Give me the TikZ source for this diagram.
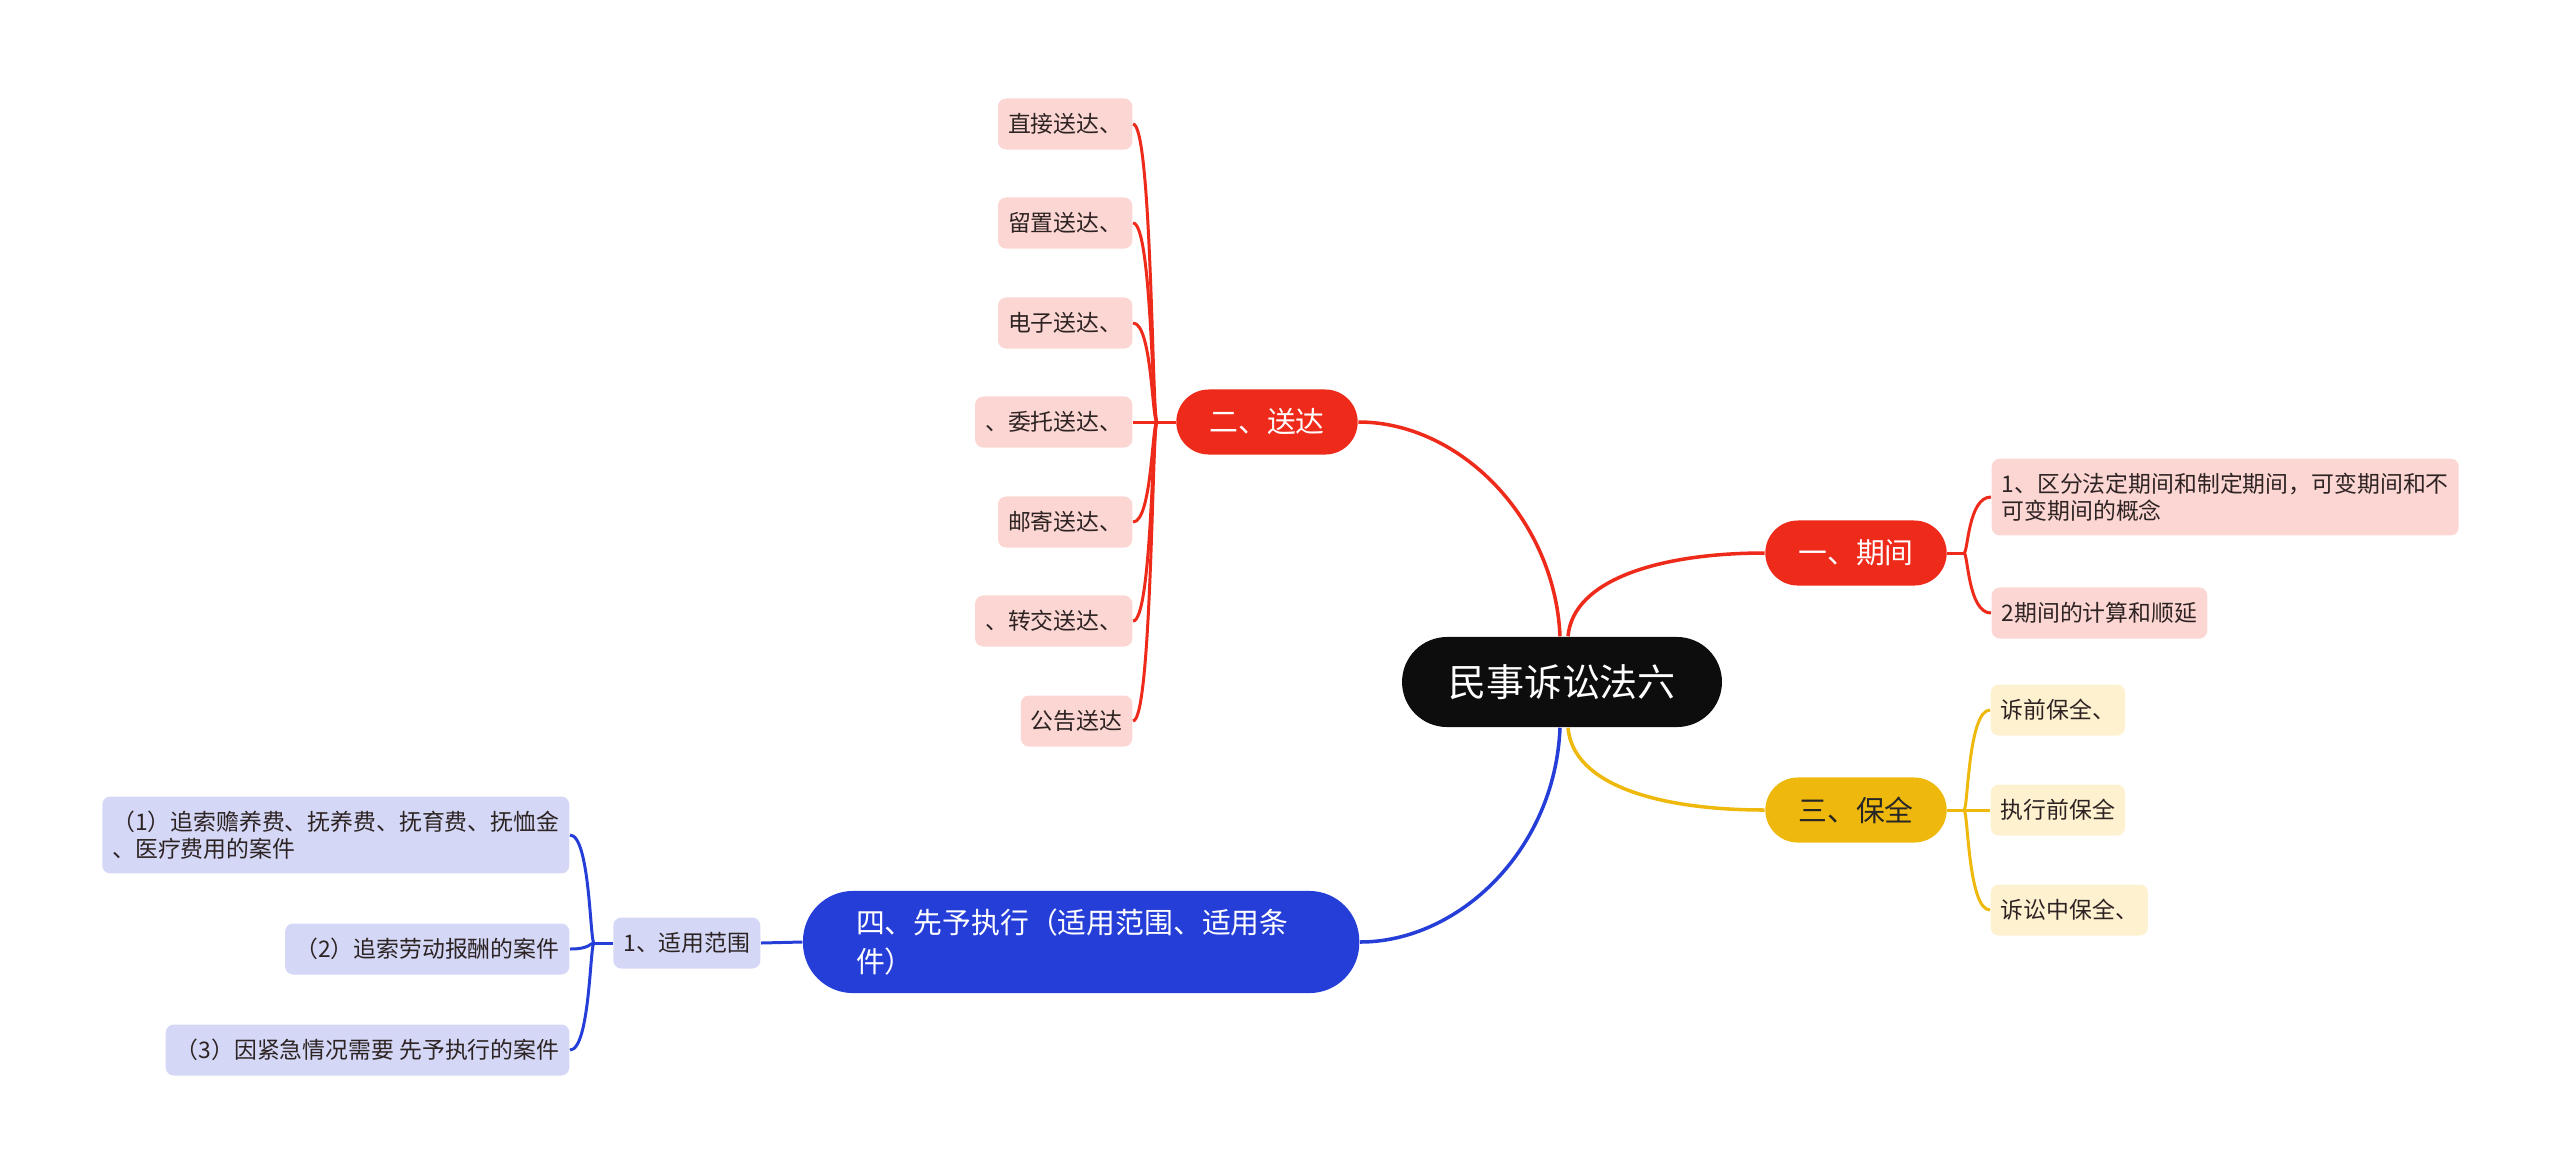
\documentclass[tikz,border=0pt]{standalone}
\usepackage{fontspec}
\newfontfamily\cjk{Noto Sans CJK SC}
\usetikzlibrary{positioning}
\definecolor{rootblack}{RGB}{13,13,13}
\definecolor{branchred}{RGB}{238,42,26}
\definecolor{leafred}{RGB}{252,214,211}
\definecolor{branchyellow}{RGB}{239,184,12}
\definecolor{leafyellow}{RGB}{253,241,208}
\definecolor{branchblue}{RGB}{37,62,216}
\definecolor{leafblue}{RGB}{212,216,246}
\definecolor{leaftext}{RGB}{45,35,35}

\begin{document}
\begin{tikzpicture}[
    x=0.01cm, y=-0.01cm,
    font=\cjk,
    rootnode/.style={fill=rootblack, text=white, rounded corners=0.45cm,
        minimum height=0.9cm, inner xsep=0.46cm,
        font=\cjk\fontsize{10.8}{13}\selectfont},
    topic/.style={fill=#1, rounded corners=0.325cm, minimum height=0.65cm,
        inner xsep=0.33cm, font=\cjk\fontsize{8.2}{11}\selectfont},
    leaf/.style={fill=#1, text=leaftext, rounded corners=0.08cm,
        minimum height=0.51cm, inner xsep=0.1cm, inner ysep=0.14cm,
        align=left, font=\cjk\fontsize{6.5}{7.8}\selectfont},
    link/.style={draw=#1, line width=1pt},
    twig/.style={draw=#1, line width=0.85pt}
]

% ============================================================
% Canvas
% ============================================================
\useasboundingbox (0,0) rectangle (2560,1172);

% ============================================================
% Root and main topics
% ============================================================
\node[rootnode] (root) at (1562,682) {民事诉讼法六};

\node[topic=branchred, text=white] (qijian) at (1856,553) {一、期间};
\node[topic=branchyellow, text=black!85] (baoquan) at (1856,810) {三、保全};
\node[topic=branchred, text=white] (songda) at (1267,422) {二、送达};
\node[topic=branchblue, text=white, anchor=east, text width=4.5cm,
      align=left, rounded corners=0.5cm, inner xsep=0.53cm, inner ysep=0.18cm]
      (xianyu) at (1360,942) {四、先予执行（适用范围、适用条\\件）};

% Main branches
\draw[link=branchred] ([xshift=-0.02cm]root.north)
    .. controls +(-5,-117) and +(102,0) .. (songda.east);
\draw[link=branchred] ([xshift=0.06cm]root.north)
    .. controls +(5,-57) and +(-104,0) .. (qijian.west);
\draw[link=branchyellow] ([xshift=0.06cm]root.south)
    .. controls +(5,58) and +(-104,0) .. (baoquan.west);
\draw[link=branchblue] ([xshift=-0.02cm]root.south)
    .. controls +(-5,123) and +(98,0) .. (xianyu.east);

% ============================================================
% RIGHT: 期间
% ============================================================
\node[leaf=leafred, anchor=west] (qj1) at (1991,497) {1、区分法定期间和制定期间，可变期间和不\\可变期间的概念};
\node[leaf=leafred, anchor=west] (qj2) at (1991,613) {2期间的计算和顺延};

\coordinate (qjjoin) at (1964,553);
\coordinate (qjspine) at (1968,553);
\draw[twig=branchred] (qijian.east) -- (qjjoin);
\foreach \i in {1,2}
    \draw[twig=branchred] (qjjoin)
        .. controls (qjspine) and (qjspine |- qj\i.west) .. (qj\i.west);

% ============================================================
% RIGHT: 保全
% ============================================================
\node[leaf=leafyellow, anchor=west] (bq1) at (1990,710) {诉前保全、};
\node[leaf=leafyellow, anchor=west] (bq2) at (1990,810) {执行前保全};
\node[leaf=leafyellow, anchor=west] (bq3) at (1990,910) {诉讼中保全、};

\coordinate (bqjoin) at (1964,810);
\coordinate (bqspine) at (1968,810);
\draw[twig=branchyellow] (baoquan.east) -- (bqjoin);
\foreach \i in {1,2,3}
    \draw[twig=branchyellow] (bqjoin)
        .. controls (bqspine) and (bqspine |- bq\i.west) .. (bq\i.west);

% ============================================================
% LEFT: 送达
% ============================================================
\node[leaf=leafred, anchor=east] (sd1) at (1133,124) {直接送达、};
\node[leaf=leafred, anchor=east] (sd2) at (1133,223) {留置送达、};
\node[leaf=leafred, anchor=east] (sd3) at (1133,323) {电子送达、};
\node[leaf=leafred, anchor=east] (sd4) at (1133,422) {、委托送达、};
\node[leaf=leafred, anchor=east] (sd5) at (1133,522) {邮寄送达、};
\node[leaf=leafred, anchor=east] (sd6) at (1133,621) {、转交送达、};
\node[leaf=leafred, anchor=east] (sd7) at (1133,721) {公告送达};

\coordinate (sdjoin) at (1157,422);
\coordinate (sdspine) at (1152,422);
\draw[twig=branchred] (songda.west) -- (sdjoin);
\foreach \i in {1,...,7}
    \draw[twig=branchred] (sdjoin)
        .. controls (sdspine) and (sdspine |- sd\i.east) .. (sd\i.east);

% ============================================================
% LEFT: 先予执行
% ============================================================
\node[leaf=leafblue, anchor=east] (fanwei) at (761,943) {1、适用范围};
\draw[twig=branchblue] (xianyu.west) -- (fanwei.east);

\node[leaf=leafblue, anchor=east] (fw1) at (570,835) {（1）追索赡养费、抚养费、抚育费、抚恤金\\、医疗费用的案件};
\node[leaf=leafblue, anchor=east] (fw2) at (570,949) {（2）追索劳动报酬的案件};
\node[leaf=leafblue, anchor=east] (fw3) at (570,1050) {（3）因紧急情况需要 先予执行的案件};

\coordinate (fwjoin) at (594,943);
\coordinate (fwspine) at (590,943);
\draw[twig=branchblue] (fanwei.west) -- (fwjoin);
\foreach \i in {1,2,3}
    \draw[twig=branchblue] (fwjoin)
        .. controls (fwspine) and (fwspine |- fw\i.east) .. (fw\i.east);

\end{tikzpicture}
\end{document}
